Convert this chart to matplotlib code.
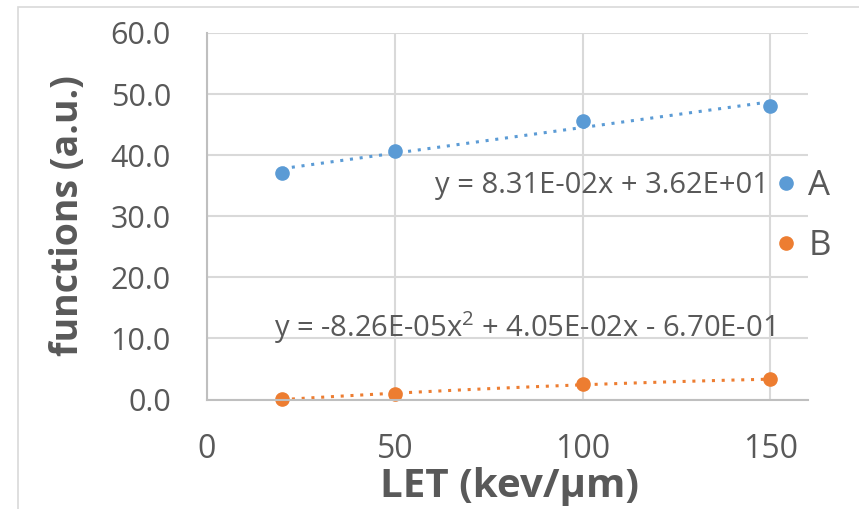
import numpy as np
import matplotlib
matplotlib.use("Agg")
import matplotlib.pyplot as plt
from matplotlib.patches import Rectangle
from matplotlib.lines import Line2D

plt.rcParams['font.family'] = ['Open Sans', 'DejaVu Sans']
plt.rcParams['mathtext.fontset'] = 'custom'
plt.rcParams['mathtext.rm'] = 'Open Sans'

# ---- data ----
let_values = [20, 50, 100, 150]
series_a = [37.1, 40.7, 45.6, 48.0]
series_b = [0.05, 0.9, 2.5, 3.3]
series_names = ["A", "B"]
eq_a = "y = 8.31E-02x + 3.62E+01"
eq_b = "y = -8.26E-05x$^{\\mathregular{2}}$ + 4.05E-02x - 6.70E-01"
x_ticks = [0, 50, 100, 150]
y_ticks = [0, 10, 20, 30, 40, 50, 60]

col_a = "#5B9BD5"
col_b = "#ED7D31"
txt = "#595959"
grid = "#D9D9D9"

W, H = 859, 509
fig = plt.figure(figsize=(W / 100, H / 100), dpi=100)

# chart-area border
fig.patches.append(Rectangle((18 / W, -0.1), 1.2, 1 - 7 / H + 0.1,
                             transform=fig.transFigure, fill=False,
                             edgecolor=grid, linewidth=1.2, zorder=0))

ax = fig.add_axes([207 / W, 1 - 399.5 / H, (808 - 207) / W, (399.5 - 33) / H])
ax.set_xlim(0, 160)
ax.set_ylim(0, 60)
ax.set_xticks(x_ticks)
ax.set_yticks(y_ticks)
ax.set_yticklabels([f"{v:.1f}" for v in y_ticks])
ax.grid(True, color=grid, linewidth=1.5)
ax.set_axisbelow(True)
for s in ["top", "right"]:
    ax.spines[s].set_visible(False)
for s in ["left", "bottom"]:
    ax.spines[s].set_color("#BFBFBF")
    ax.spines[s].set_linewidth(1.5)
ax.tick_params(length=0)
ax.tick_params(axis="y", labelsize=22, labelcolor=txt, pad=26)
ax.tick_params(axis="x", labelsize=23, labelcolor=txt, pad=24)

x = np.array(let_values, dtype=float)
xs = np.linspace(x.min(), x.max(), 100)
pa = np.polyfit(x, series_a, 1)
pb = np.polyfit(x, series_b, 2)
ax.plot(xs, np.polyval(pa, xs), color=col_a, linestyle=(0, (1, 2.2)), linewidth=2.2)
ax.plot(xs, np.polyval(pb, xs), color=col_b, linestyle=(0, (1, 2.2)), linewidth=2.2)
ax.plot(x, series_a, "o", color=col_a, markersize=9.5, clip_on=False)
ax.plot(x, series_b, "o", color=col_b, markersize=9.5, clip_on=False)

fig.text(602 / W, 1 - 186 / H, eq_a, fontsize=21, color=txt, ha="center", va="center")
fig.text(524 / W, 1 - 328 / H, eq_b, fontsize=21, color=txt, ha="center", va="center")

ax.set_xlabel("LET (kev/µm)", fontsize=29, fontweight="bold", color=txt)
ax.xaxis.label.set_va("center")
ax.xaxis.set_label_coords((510 - 207) / (808 - 207), -(487 - 399.5) / (399.5 - 33))
ax.set_ylabel("functions (a.u.)", fontsize=27, fontweight="bold", color=txt)
ax.yaxis.label.set_va("center")
ax.yaxis.set_label_coords(-(207 - 68) / (808 - 207), (399.5 - 216) / (399.5 - 33))

handles = [Line2D([], [], marker="o", linestyle="none", color=c, markersize=9.5)
           for c in (col_a, col_b)]
fig.legend(handles, series_names, loc="center left",
           bbox_to_anchor=(758 / W, 1 - 216 / H), frameon=False,
           fontsize=25, labelcolor=txt, handlelength=0.6, handletextpad=0.35,
           labelspacing=0.75, borderpad=0)

fig.savefig("out.png", dpi=100)
